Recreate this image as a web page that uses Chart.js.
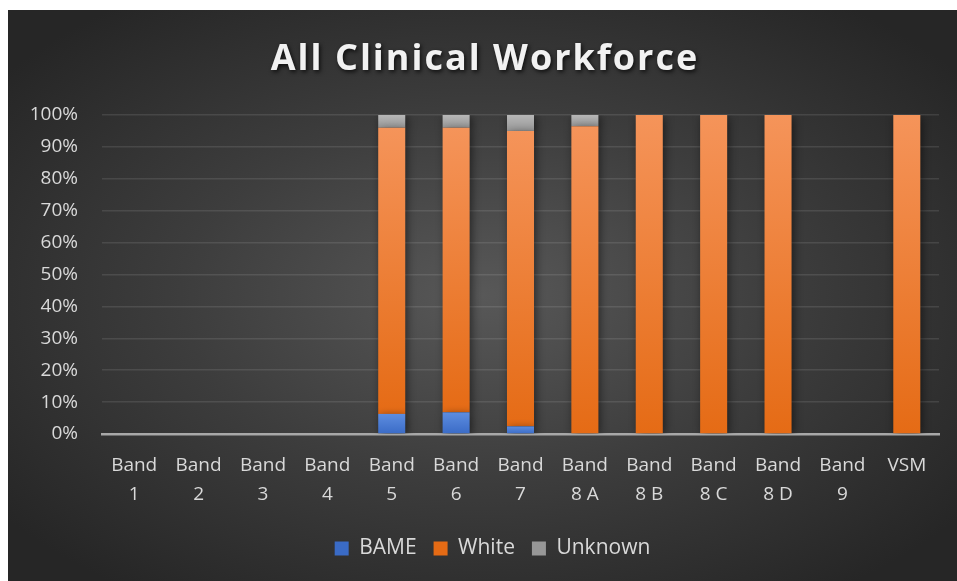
<!DOCTYPE html>
<html>
<head>
<meta charset="utf-8">
<script src="https://cdn.jsdelivr.net/npm/chart.js@4"></script>
<style>
  html, body { margin: 0; padding: 0; background: #ffffff; }
  #panel {
    position: absolute; left: 8px; top: 10px; width: 949px; height: 571px;
    background: radial-gradient(ellipse farthest-corner at 50% 50%, #585858 0%, #3d3d3d 45%, #262626 90%);
  }
  canvas { display: block; }
</style>
</head>
<body>
<div id="panel"><canvas id="c" width="949" height="571"></canvas></div>
<script>
const categories = [['Band','1'],['Band','2'],['Band','3'],['Band','4'],['Band','5'],['Band','6'],['Band','7'],['Band','8 A'],['Band','8 B'],['Band','8 C'],['Band','8 D'],['Band','9'],['VSM']];
const bame    = [0, 0, 0, 0, 6.3, 6.8, 2.4, 0, 0, 0, 0, 0, 0];
const white   = [0, 0, 0, 0, 89.7, 89.2, 92.6, 96.5, 100, 100, 100, 0, 100];
const unknown = [0, 0, 0, 0, 4.0, 4.0, 5.0, 3.5, 0, 0, 0, 0, 0];
const yTicks  = [0, 10, 20, 30, 40, 50, 60, 70, 80, 90, 100];

const seriesList = [bame, white, unknown];
const gradStops = [
  ['#5d8de0', '#3a6bc6'],
  ['#f5945a', '#e56b15'],
  ['#b7b7b7', '#979797']
];

function segFill(dsIndex) {
  return function(ctx) {
    const chart = ctx.chart;
    const y = chart.scales && chart.scales.y;
    const i = ctx.dataIndex;
    if (!y || i === undefined || !chart.chartArea) return gradStops[dsIndex][1];
    let base = 0;
    for (let k = 0; k < dsIndex; k++) base += seriesList[k][i];
    const top = base + seriesList[dsIndex][i];
    const pTop = y.getPixelForValue(top);
    const pBot = y.getPixelForValue(base);
    if (!isFinite(pTop) || !isFinite(pBot) || Math.abs(pBot - pTop) < 0.5) return gradStops[dsIndex][1];
    const g = chart.ctx.createLinearGradient(0, pTop, 0, pBot);
    g.addColorStop(0, gradStops[dsIndex][0]);
    g.addColorStop(1, gradStops[dsIndex][1]);
    return g;
  };
}

const shadowPlugin = {
  id: 'shadows',
  beforeDraw(chart) {
    const tb = chart.titleBlock;
    if (tb && !tb._wrapped) {
      const orig = tb.draw;
      tb.draw = function() {
        const c = chart.ctx;
        c.save();
        c.shadowColor = 'rgba(0,0,0,0.75)';
        c.shadowBlur = 4;
        c.shadowOffsetX = 1.5;
        c.shadowOffsetY = 2;
        if ('letterSpacing' in c) c.letterSpacing = '2px';
        orig.apply(this, arguments);
        c.restore();
      };
      tb._wrapped = true;
    }
    const lg = chart.legend;
    if (lg && !lg._wrapped) {
      const origL = lg.draw;
      lg.draw = function() {
        const c = chart.ctx;
        c.save();
        c.translate(7.5, 1.5);
        origL.apply(this, arguments);
        c.restore();
      };
      lg._wrapped = true;
    }
  },
  beforeDatasetsDraw(chart) {
    const c = chart.ctx;
    c.save();
    c.shadowColor = 'rgba(0,0,0,0.55)';
    c.shadowBlur = 9;
    c.shadowOffsetX = 2;
    c.shadowOffsetY = 2;
  },
  afterDatasetsDraw(chart) {
    chart.ctx.restore();
  }
};

const FONT = "'Open Sans', 'Noto Sans', sans-serif";

new Chart(document.getElementById('c'), {
  type: 'bar',
  data: {
    labels: categories,
    datasets: [
      { label: 'BAME', data: bame, backgroundColor: segFill(0), borderWidth: 0 },
      { label: 'White', data: white, backgroundColor: segFill(1), borderWidth: 0 },
      { label: 'Unknown', data: unknown, backgroundColor: segFill(2), borderWidth: 0 }
    ]
  },
  plugins: [shadowPlugin],
  options: {
    responsive: false,
    animation: false,
    events: [],
    datasets: { bar: { categoryPercentage: 1, barPercentage: 0.42 } },
    layout: { padding: { left: 23, right: 18, top: 0, bottom: 13.5 } },
    plugins: {
      title: {
        display: true,
        text: 'All Clinical Workforce',
        color: '#f2f2f2',
        font: { family: FONT, size: 36, weight: 'bold', lineHeight: 1.2 },
        padding: { top: 28, bottom: 33.8 }
      },
      legend: {
        display: true,
        position: 'bottom',
        labels: {
          color: '#d9d9d9',
          font: { family: FONT, size: 21 },
          boxWidth: 14,
          boxHeight: 14,
          padding: 17,
          generateLabels(chart) {
            return chart.data.datasets.map((ds, i) => ({
              text: ds.label,
              fillStyle: gradStops[i][1],
              strokeStyle: gradStops[i][1],
              lineWidth: 0,
              fontColor: '#d9d9d9',
              hidden: false,
              datasetIndex: i
            }));
          }
        }
      },
      tooltip: { enabled: false }
    },
    scales: {
      x: {
        stacked: true,
        grid: { display: false, drawTicks: false },
        border: { display: true, color: '#a8a8a8', width: 2.5 },
        ticks: {
          color: '#d9d9d9',
          font: { family: FONT, size: 19, lineHeight: 1.526 },
          padding: 17,
          maxRotation: 0,
          autoSkip: false
        },
        afterFit(scale) { scale.height = 85.5; }
      },
      y: {
        stacked: true,
        min: 0,
        max: 100,
        afterBuildTicks(scale) { scale.ticks = yTicks.map(v => ({ value: v })); },
        grid: {
          drawTicks: false,
          color: (ctx) => (ctx.tick && ctx.tick.value === 0) ? 'rgba(0,0,0,0)' : 'rgba(255,255,255,0.10)',
          lineWidth: 1.5
        },
        border: { display: false },
        ticks: {
          color: '#d9d9d9',
          font: { family: FONT, size: 19 },
          padding: 24,
          callback: (v) => v + '%'
        },
        afterFit(scale) { scale.width = 71; }
      }
    }
  }
});
</script>
</body>
</html>
